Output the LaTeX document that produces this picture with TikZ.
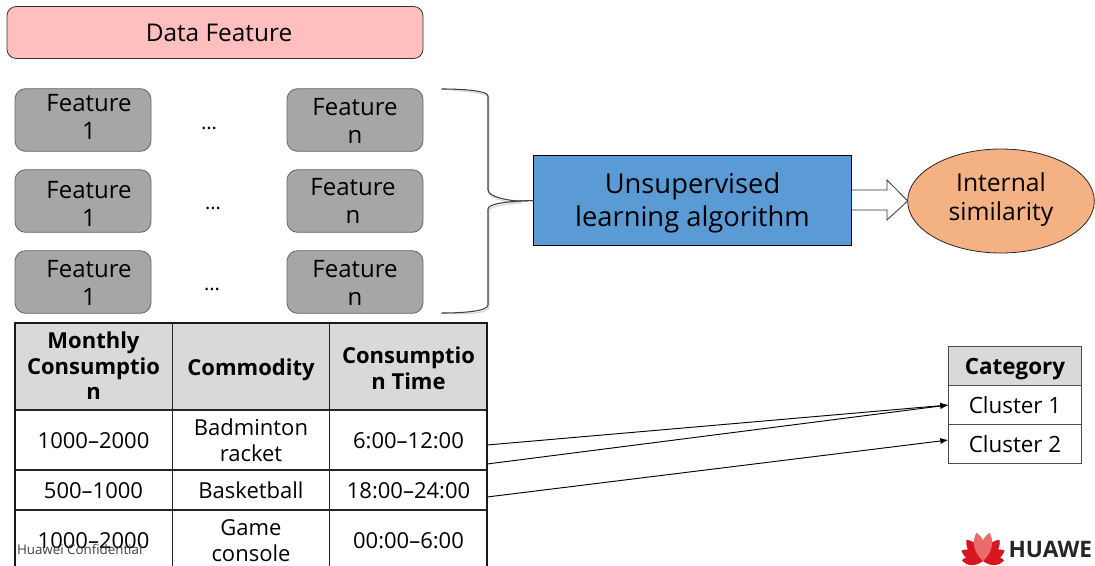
\documentclass[tikz,border=0pt]{standalone}
\usepackage{fontspec}
\setmainfont{Open Sans}
\usetikzlibrary{arrows.meta,shapes.geometric}
\definecolor{pinkbox}{HTML}{FFBFBF}
\definecolor{greybox}{HTML}{A6A6A6}
\definecolor{bluebox}{HTML}{5B9BD5}
\definecolor{orangebox}{HTML}{F4B183}
\definecolor{headgrey}{HTML}{D9D9D9}
\definecolor{hwred}{HTML}{D7161F}
\definecolor{hwlight}{HTML}{EB6A6A}
\newcommand{\fs}[2]{\fontsize{#1}{#2}\selectfont}
\newcommand{\dn}[2]{\raisebox{-#1}[\height][\depth]{#2}}
\tikzset{
 x=0.75pt,y=-0.75pt,
 every node/.style={inner sep=0pt,outer sep=0pt,align=center,text=black},
 feat/.style={draw=black!60,fill=greybox,rounded corners=8pt,line width=0.6pt,minimum width=102pt,minimum height=47pt},
 feattext/.style={font=\fs{18}{21.3}},
 dots/.style={font=\fs{15}{18}},
 cell/.style={draw=black!85,line width=0.8pt,font=\fs{16.5}{19.5},minimum height=10pt},
 hcell/.style={cell,fill=headgrey,font=\fs{16.5}{19.2}\bfseries},
 catcell/.style={draw=black!70,line width=0.8pt,font=\fs{16.8}{20},minimum width=100pt,minimum height=29.3pt},
 wire/.style={draw=black,line width=0.7pt,-{Latex[length=6pt,width=4.5pt]}},
 brace/.style={draw=black!75,line width=0.8pt,line cap=round},
 braceshadow/.style={draw=black!15,line width=1pt,line cap=round},
 blockarrow/.style={draw=black!80,fill=white,line width=0.6pt},
}
\begin{document}
\begin{tikzpicture}
\useasboundingbox (0,0) rectangle (1095,565);
\clip (0,0) rectangle (1095,565);
% title
\node[draw=black!80,fill=pinkbox,rounded corners=7pt,line width=0.6pt,minimum width=312pt,minimum height=39pt,font=\fs{18.3}{22}] (title) at (215,32.5) {\hspace*{6pt}Data Feature};
% features
\node[feat] (f1a) at (83,120) {};
\node[feat] (f2a) at (83,201) {};
\node[feat] (f3a) at (83,282) {};
\node[feat] (f1b) at (355,120) {};
\node[feat] (f2b) at (355,201) {};
\node[feat] (f3b) at (355,282) {};
\node[feattext] (t1a) at (89,117) {Feature\\1};
\node[feattext] (t2a) at (89,204) {Feature\\1};
\node[feattext] (t3a) at (89,283) {Feature\\1};
\node[feattext] (t1b) at (355,121) {Feature\\n};
\node[feattext] (t2b) at (353,201) {Feature\\n};
\node[feattext] (t3b) at (355,283) {Feature\\n};
\node[dots] (d1) at (209,128) {...};
\node[dots] (d2) at (213,208) {...};
\node[dots] (d3) at (212,289) {...};
% brace
\coordinate (bt) at (442,89);
\coordinate (bb) at (442,313);
\node[draw=black,fill=bluebox,line width=0.7pt,minimum width=239pt,minimum height=67.5pt,font=\fs{20.5}{24.6}] (algo) at (692.5,200.5) {\dn{2pt}{Unsupervised}\\\dn{2pt}{learning algorithm}};
\begin{scope}[shift={(1,2)}]
\draw[braceshadow] (bt) .. controls (465,89) and (488,91) .. (488,96) -- (488,190)
  .. controls (488,197) and (510,201) .. (520,201);
\draw[braceshadow] (520,201) .. controls (505,202) and (488,204) .. (488,209) -- (488,305)
  .. controls (488,311) and (465,313) .. (bb);
\end{scope}
\draw[brace] (bt) .. controls (465,89) and (488,91) .. (488,96) -- (488,190)
  .. controls (488,197) and (510,201) .. (520,201) -- (algo.west);
\draw[brace] (algo.west) -- (520,201) .. controls (505,202) and (488,204) .. (488,209) -- (488,305)
  .. controls (488,311) and (465,313) .. (bb);
% ellipse and arrow
\node[draw=black!85,fill=orangebox,ellipse,line width=0.6pt,minimum width=140pt,minimum height=78pt] (sim) at (1001,201) {};
\node[font=\fs{18.5}{21.7}] (simt) at (1001,200) {Internal\\similarity};
\draw[blockarrow] (algo.east |- 0,190) -- (887,190) -- (887,180) -- (sim.west) -- (887,220) -- (887,210) -- (algo.east |- 0,210);
% table
\node[hcell,minimum width=118pt,minimum height=65pt] (h1) at (93.5,366) {Monthly\\Consumptio\\n};
\node[hcell,minimum width=118pt,minimum height=65pt] (h2) at (251,366) {\dn{2.6pt}{Commodity}};
\node[hcell,minimum width=118pt,minimum height=65pt] (h3) at (408.5,366) {\dn{1.5pt}{Consumptio}\\\dn{1.5pt}{n Time}};
\node[cell,minimum width=118pt,minimum height=45pt] (a1) at (93.5,440) {\dn{0.75pt}{1000–2000}};
\node[cell,minimum width=118pt,minimum height=45pt] (a2) at (251,440) {Badminton\\racket};
\node[cell,minimum width=118pt,minimum height=45pt] (a3) at (408.5,440) {\dn{0.75pt}{6:00–12:00}};
\node[cell,minimum width=118pt,minimum height=29pt] (b1) at (93.5,490) {\dn{0.75pt}{500–1000}};
\node[cell,minimum width=118pt,minimum height=29pt] (b2) at (251,490) {Basketball};
\node[cell,minimum width=118pt,minimum height=29pt] (b3) at (408.5,490) {\dn{0.75pt}{18:00–24:00}};
\node[cell,minimum width=118pt,minimum height=45pt] (c1) at (93.5,540) {\dn{0.75pt}{1000–2000}};
\node[cell,minimum width=118pt,minimum height=45pt] (c2) at (251,540) {\dn{0.75pt}{Game}\\\dn{0.75pt}{console}};
\node[cell,minimum width=118pt,minimum height=45pt] (c3) at (408.5,540) {\dn{0.75pt}{00:00–6:00}};
\draw[line width=1.7pt,black!90] (15,570) -- (15,323) -- (487,323) -- (487,570);
% category
\node[catcell,fill=headgrey,font=\fs{16.8}{20}\bfseries] (cat) at (1015,366) {\dn{2.4pt}{Category}};
\node[catcell] (cl1) at (1015,405) {Cluster 1};
\node[catcell] (cl2) at (1015,444) {Cluster 2};
% connectors
\coordinate (s1) at (487,445);
\coordinate (s2) at (487,464);
\coordinate (s3) at (487,497);
\draw[wire] (s1) -- (cl1.west);
\draw[wire] (s2) -- (cl1.west);
\draw[wire] (s3) -- (cl2.west |- 0,440);
% footer
\node[anchor=west,font=\fs{10}{12},text=black!75] (conf) at (17,549) {Huawei Confidential};
\foreach \a/\l/\w/\c in {-88/21/6/hwred,88/21/6/hwred,-64/24/6.5/hwred,64/24/6.5/hwred,-38/27/7/hwred,38/27/7/hwred,-13/29/7/hwlight,13/29/7/hwlight}{
  \fill[\c,shift={(983,561)},rotate=\a] (0,0) .. controls (-\w,-0.35*\l) and (-\w,-0.75*\l) .. (0,-\l) .. controls (\w,-0.75*\l) and (\w,-0.35*\l) .. (0,0);
}
\node[anchor=west,font=\fs{17}{20}\bfseries,text=black!85] (hw) at (1008.5,549) {HUAWE};
\end{tikzpicture}
\end{document}
